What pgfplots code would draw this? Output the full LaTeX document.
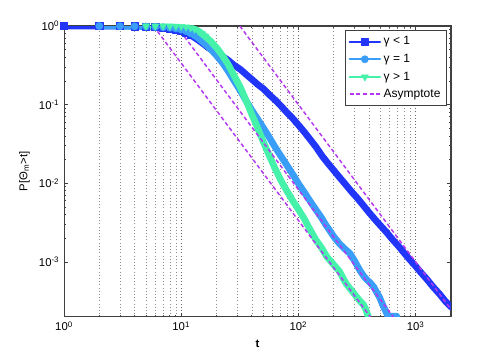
\documentclass[border=0pt]{standalone}
\usepackage{fontspec}
\setmainfont{Liberation Sans}
\usepackage{pgfplots}
\pgfplotsset{compat=1.18}

\definecolor{gless}{RGB}{34,54,250}
\definecolor{gone}{RGB}{58,158,248}
\definecolor{gmore}{RGB}{70,242,170}
\definecolor{asym}{RGB}{180,56,240}

\begin{document}
\begin{tikzpicture}
\begin{axis}[
    name=ax,
    scale only axis,
    width=290pt, height=218pt,
    xmode=log, ymode=log,
    xmin=1, xmax=2000, ymin=2e-4, ymax=1,
    xtick={1,10,100,1000},
    xticklabels={10\textsuperscript{0},10\textsuperscript{1},10\textsuperscript{2},10\textsuperscript{3}},
    ytick={1e-3,1e-2,1e-1,1},
    yticklabels={10\textsuperscript{-3},10\textsuperscript{-2},10\textsuperscript{-1},10\textsuperscript{0}},
    tick align=inside,
    major tick length=3pt, minor tick length=1.6pt,
    xmajorgrids, xminorgrids,
    major grid style={dotted, black!60},
    minor grid style={dotted, black!45},
    axis line style={black!75, line width=0.8pt},
    every tick/.style={black!75, line width=0.6pt},
    tick label style={font=\fontsize{8.5}{10}\selectfont},
    label style={font=\fontsize{8.5}{10}\selectfont},
    xlabel={\textbf{t}},
    ylabel={P[Θ\textsubscript{m}>t]},
    legend style={at={(1,1)}, anchor=north east, xshift=-3pt, yshift=-3pt,
        draw=black!75, line width=0.8pt, font=\fontsize{9}{11}\selectfont,
        inner sep=2.5pt, row sep=1.5pt, cells={anchor=west}},
    legend image code/.code={\draw[mark indices={2}]
        plot coordinates {(0cm,0cm) (0.4cm,0cm) (0.8cm,0cm)};},
    legend image post style={line width=1.5pt},
    every axis plot/.append style={line join=round, line cap=round},
]
% gamma < 1
\addplot[gless, line width=5pt, mark=square*, mark size=2.7pt, mark indices={1,...,12},
    mark options={solid, line width=0.4pt}] coordinates {
    (1,1) (2,1) (3,1) (4,0.995) (5,0.985) (6,0.97) (7,0.955) (8,0.935) (9,0.91)
    (10,0.88) (11,0.83) (12,0.77) (13,0.71) (14,0.66) (15.5,0.59) (17,0.53)
    (18.5,0.49) (20,0.46) (22.5,0.41) (25,0.37) (28,0.32) (32,0.28) (36,0.24)
    (40,0.21) (45,0.18) (50,0.16) (56,0.135) (63,0.115) (71,0.096) (80,0.079)
    (90,0.066) (100,0.055) (112,0.045) (126,0.036) (141,0.029) (160,0.022)
    (178,0.018) (200,0.0146) (224,0.0119) (250,0.0098) (282,0.0079) (320,0.0064)
    (355,0.0053) (400,0.00425) (447,0.0035) (500,0.0029) (562,0.0024) (630,0.00195)
    (710,0.0016) (800,0.00129) (890,0.00107) (1000,0.00088) (1120,0.00072)
    (1260,0.00059) (1410,0.00048) (1600,0.00039) (1780,0.00032) (2000,0.000267)
};
\addlegendentry{γ < 1}
% gamma = 1
\addplot[gone, line width=5pt, mark=*, mark size=2.7pt, mark indices={1,...,12},
    mark options={solid, line width=0.4pt}] coordinates {
    (2,1) (3,0.995) (4,0.99) (5,0.985) (6,0.975) (7,0.965) (8,0.95) (9,0.93)
    (10,0.90) (11,0.86) (12,0.81) (13,0.76) (14,0.70) (15,0.64) (16,0.59)
    (18,0.50) (20,0.42) (22.5,0.34) (25,0.27) (28,0.205) (32,0.15) (36,0.11)
    (40,0.085) (45,0.065) (50,0.051) (56,0.039) (63,0.029) (71,0.022) (80,0.0168)
    (90,0.0128) (100,0.0099) (112,0.0077) (126,0.0059) (141,0.0046) (158,0.0036)
    (170,0.0030) (185,0.0025) (200,0.0021) (224,0.0017) (250,0.00145)
    (274,0.00129) (300,0.00104) (334,0.00078) (360,0.00066) (381,0.00060)
    (410,0.00054) (439,0.00048) (465,0.00041) (494,0.00035) (520,0.00029)
    (545,0.00025) (578,0.000207) (610,0.000204) (650,0.000204) (690,0.000204)
};
\addlegendentry{γ = 1}
% gamma > 1
\addplot[gmore, line width=5pt, mark=triangle*, mark size=3.1pt, mark indices={1,...,12},
    mark options={solid, line width=0.4pt, rotate=180}] coordinates {
    (5,1) (6,1) (7,1) (8,1) (9,0.995) (10,0.99) (11,0.975) (12,0.95) (13,0.91)
    (14,0.86) (15,0.80) (16,0.74) (18,0.63) (20,0.53) (22.5,0.42) (25,0.33)
    (28,0.24) (32,0.165) (36,0.11) (40,0.075) (45,0.05) (50,0.034) (56,0.023)
    (63,0.0155) (71,0.0108) (80,0.0079) (90,0.0059) (100,0.00465) (112,0.00355)
    (125,0.0026) (141,0.0019) (158,0.0015) (174,0.00117) (200,0.00092)
    (225,0.00075) (240,0.00062) (257,0.00052) (285,0.00043) (313,0.00036)
    (340,0.00031) (356,0.00029) (375,0.00025) (393,0.000205)
};
\addlegendentry{γ > 1}
% asymptotes, slope -2
\addplot[asym, line width=1.1pt, dash pattern=on 3pt off 2pt, line cap=butt] coordinates {
    (5.8,1) (580,0.0001)
};
\addlegendentry{Asymptote}
\addplot[asym, line width=1.1pt, dash pattern=on 3pt off 2pt, line cap=butt, forget plot] coordinates {
    (9.1,1) (910,0.0001)
};
\addplot[asym, line width=1.1pt, dash pattern=on 3pt off 2pt, line cap=butt, forget plot] coordinates {
    (31.6,1) (3160,0.0001)
};
\end{axis}
\pgfresetboundingbox
\path ([shift={(-48pt,-31.5pt)}]ax.south west) rectangle ([shift={(35.25pt,19.5pt)}]ax.north east);
\end{tikzpicture}
\end{document}
